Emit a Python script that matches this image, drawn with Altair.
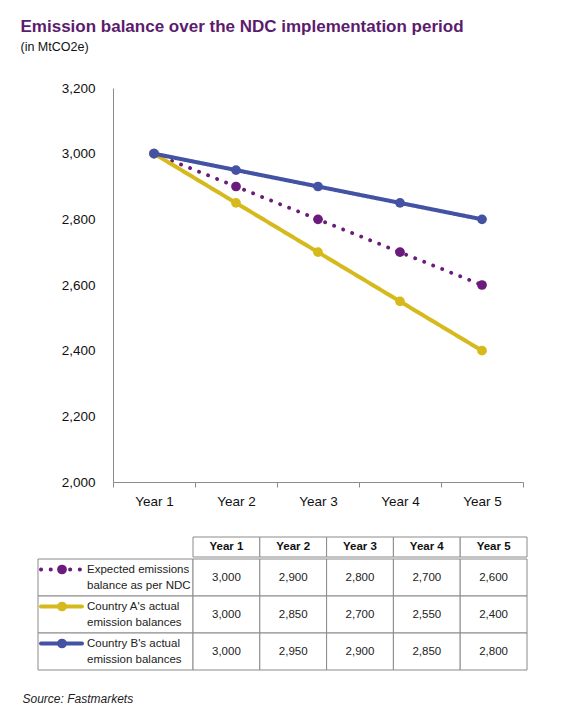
import altair as alt
import pandas as pd

FONT = "Liberation Sans, Arial, sans-serif"

# ---- data ----
years = ["Year 1", "Year 2", "Year 3", "Year 4", "Year 5"]
series = [
    "Expected emissions balance as per NDC",
    "Country A's actual emission balances",
    "Country B's actual emission balances",
]
series_lines = [
    ["Expected emissions", "balance as per NDC"],
    ["Country A's actual", "emission balances"],
    ["Country B's actual", "emission balances"],
]
expected = [3000, 2900, 2800, 2700, 2600]
country_a = [3000, 2850, 2700, 2550, 2400]
country_b = [3000, 2950, 2900, 2850, 2800]
y_ticks = [2000, 2200, 2400, 2600, 2800, 3000, 3200]

# ---- styles ----
purple = "#6a1b7b"
yellow = "#d6b91c"
blue = "#4352a3"
grey = "#8c8c8c"
border = "#8a8a8a"
colors = [purple, yellow, blue]
dashes = [[0.1, 9.6], [1, 0], [1, 0]]
widths = [3.8, 4, 4]

AXIS_W = 75    # room kept for the y-axis labels, inside the chart's own width
PLOT_W = 410

rows = []
for s, vals in zip(series, [expected, country_a, country_b]):
    for yr, v in zip(years, vals):
        rows.append({"series": s, "year": yr, "value": v})
df = pd.DataFrame(rows)

color = alt.Color("series:N", scale=alt.Scale(domain=series, range=colors), legend=None)
dash = alt.StrokeDash("series:N", scale=alt.Scale(domain=series, range=dashes), legend=None)

# ---- line chart ----
base = alt.Chart(df).encode(
    x=alt.X("year:N", sort=years,
            scale=alt.Scale(type="band", paddingInner=0, paddingOuter=0,
                            range=[AXIS_W, AXIS_W + PLOT_W]),
            axis=alt.Axis(title=None, labelAngle=0, tickBand="extent", tickSize=5,
                          tickColor=grey, domainColor=grey, labelFontSize=13.5,
                          labelColor="#111", labelPadding=7)),
    y=alt.Y("value:Q", scale=alt.Scale(domain=[2000, 3200], nice=False, zero=False),
            axis=alt.Axis(title=None, values=y_ticks, format=",d", grid=False, tickSize=0,
                          domainColor=grey, labelFontSize=13.5, labelColor="#111",
                          labelPadding=18, offset=-AXIS_W)),
    color=color,
    strokeDash=dash,
)

layers = []
for s, w in zip(series, widths):
    sub = base.transform_filter(alt.datum.series == s)
    layers.append(sub.mark_line(strokeWidth=w, strokeCap="round"))
    layers.append(sub.mark_circle(size=95, opacity=1))

line_chart = alt.layer(*layers).properties(width=AXIS_W + PLOT_W, height=394)

# ---- table ----
header_df = pd.DataFrame({"year": years})
tx = alt.X("year:N", sort=years,
           scale=alt.Scale(type="band", paddingInner=0, paddingOuter=0), axis=None)

blank = alt.Chart(header_df.head(1)).mark_text(text=" ", opacity=0).encode(
    x=alt.value(0), y=alt.value(0)
).properties(width=155, height=20)

hdr = alt.Chart(header_df).encode(x=tx)
header_chart = (
    hdr.mark_rect(fill="white", stroke=border, strokeWidth=1)
    + hdr.mark_text(fontWeight="bold", fontSize=11.5, color="#111").encode(
        text="year:N", y=alt.value(10))
).properties(width=334, height=20)

ty = alt.Y("series:N", sort=series,
           scale=alt.Scale(type="band", paddingInner=0, paddingOuter=0), axis=None)
vals = alt.Chart(df).encode(x=tx, y=ty)
values_chart = (
    vals.mark_rect(fill="white", stroke=border, strokeWidth=1)
    + vals.mark_text(fontSize=11.5, color="#222").encode(
        text=alt.Text("value:Q", format=","))
).properties(width=334, height=111)

labels_df = pd.DataFrame({"series": series, "label": series_lines})
lab = alt.Chart(labels_df).encode(y=ty)
labels_chart = alt.layer(
    lab.mark_rect(fill="white", stroke=border, strokeWidth=1),
    lab.mark_text(align="left", fontSize=11.5, lineHeight=16, color="#222",
                  yOffset=-8).encode(x=alt.value(49), text="label"),
    lab.mark_rule(strokeWidth=4, strokeCap="round", yOffset=-8).encode(
        x=alt.value(3), x2=alt.value(44), color=color, strokeDash=dash),
    lab.mark_circle(size=95, opacity=1, yOffset=-8).encode(
        x=alt.value(24), color=color),
).properties(width=155, height=111)

table = alt.vconcat(
    alt.hconcat(blank, header_chart, spacing=0, bounds="flush"),
    alt.hconcat(labels_chart, values_chart, spacing=0, bounds="flush"),
    spacing=0,
    title=alt.TitleParams("Source: Fastmarkets", orient="bottom", anchor="start",
                          fontStyle="italic", fontWeight="normal", fontSize=12,
                          color="#222", dx=-15, offset=23),
)

chart = alt.vconcat(
    line_chart, table, spacing=23,
    title=alt.TitleParams(
        "Emission balance over the NDC implementation period",
        subtitle="(in MtCO2e)", anchor="start", fontSize=17, fontWeight="bold",
        color="#5b1c6e", subtitleFontSize=12.5, subtitleColor="#111",
        subtitlePadding=5, dx=-2, offset=27),
).properties(
    padding={"left": 12, "top": 9, "right": 10, "bottom": 5},
    background="white",
).configure(font=FONT).configure_view(strokeWidth=0)

chart.save("out.html", embed_options={"renderer": "svg", "actions": False})
